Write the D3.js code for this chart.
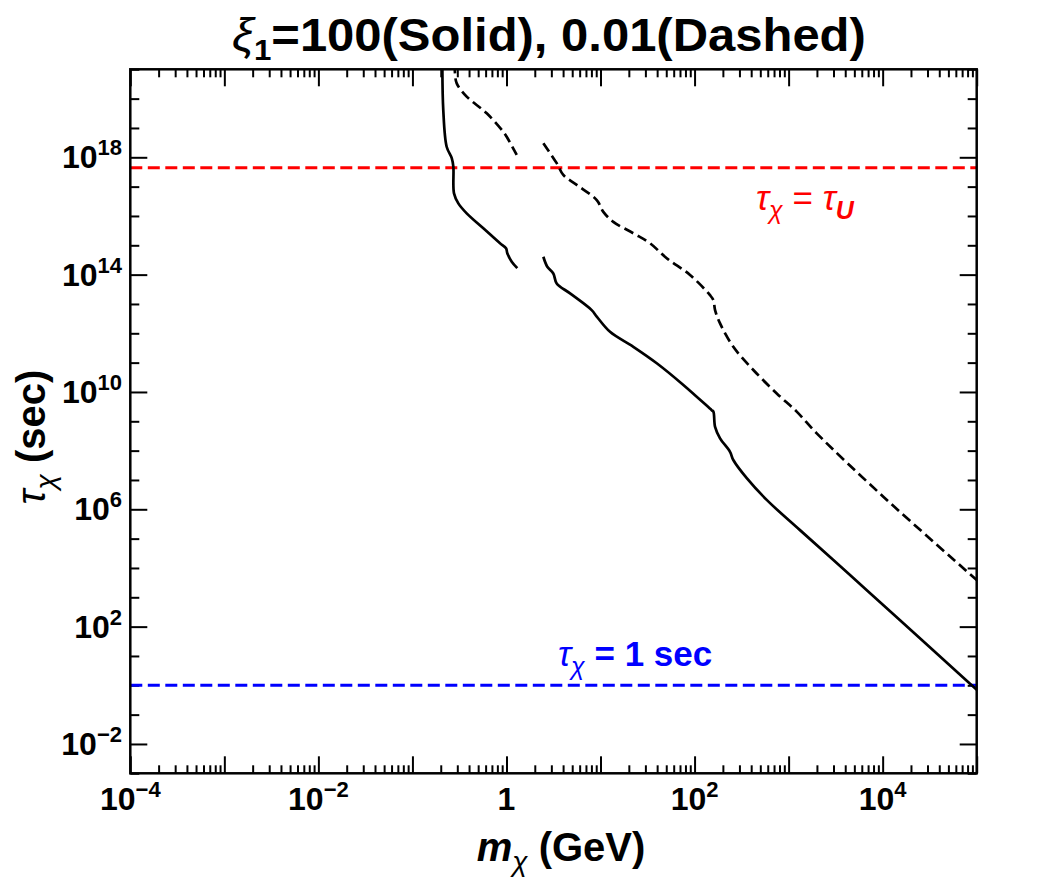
<!DOCTYPE html>
<html><head><meta charset="utf-8">
<script src="https://cdn.jsdelivr.net/npm/d3@7"></script>
<style>body{margin:0;background:#fff}svg{display:block}</style>
</head><body><svg id="c" width="1042" height="882"></svg>
<script>
// Curves as [log10(m_chi / GeV), log10(tau_chi / sec)]
const solidLowMass = [[-0.682,21.2],[-0.672,19.61],[-0.636,18.36],[-0.582,17.97],[-0.565,17.68],[-0.558,16.77],[-0.512,16.43],[-0.423,16.09],[-0.246,15.58],[-0.069,15.07],[-0.005,14.90],[0.009,14.73],[0.056,14.44],[0.115,14.22]];
const solidHighMass = [[0.392,14.61],[0.434,14.27],[0.498,14.04],[0.534,13.70],[0.676,13.36],[0.906,12.79],[0.960,12.57],[1.101,12.05],[1.349,11.54],[1.598,10.98],[1.881,10.24],[2.182,9.38],[2.200,9.33],[2.218,8.81],[2.271,8.42],[2.377,7.96],[2.412,7.68],[2.555,7.06],[2.767,6.32],[3.121,5.29],[3.653,3.76],[4.185,2.22],[4.929,0.05],[5.0,-0.15]];
const dashedLowMass = [[-0.550,21.2],[-0.547,20.86],[-0.529,20.52],[-0.423,20.07],[-0.210,19.50],[-0.034,18.87],[0.002,18.70],[0.109,18.08]];
const dashedHighMass = [[0.392,18.48],[0.534,17.80],[0.604,17.40],[0.747,17.06],[0.960,16.54],[1.030,16.14],[1.136,15.80],[1.349,15.41],[1.526,15.07],[1.704,14.56],[1.952,13.99],[2.164,13.30],[2.200,13.13],[2.218,12.79],[2.271,12.34],[2.412,11.54],[2.625,10.75],[2.874,9.95],[3.086,9.33],[3.299,8.59],[4.007,6.43],[5.0,3.59]];
const xLabelExps = [-4,-2,0,2,4];
const yLabelExps = [-2,2,6,10,14,18];
const tauUniverse = 4.4e17;
const tauOneSec = 1;

const svg = d3.select("#c");
const L=130.3, R=976.7, T=69.3, B=773.3;
const x = d3.scaleLog().domain([1e-4,1e5]).range([L,R]);
const y = d3.scaleLog().domain([1e-3,1e21]).range([B,T]);
const FONT = "'Liberation Sans', Arial, sans-serif";

// ticks
const xMajor = d3.range(-4,6).map(e=>10**e);
const xMinor = [];
for (let e=-4;e<5;e++) for (let k=2;k<10;k++) xMinor.push(k*10**e);
const yAll = d3.range(-3,22).map(e=>10**e);
const yMajor = yLabelExps.map(e=>10**e);
const yMinor = yAll.filter(v=>!yLabelExps.includes(Math.round(Math.log10(v))));

function drawAxis(gen, scale, vals, size, tr){
  const g = svg.append("g").attr("transform",tr)
    .call(gen(scale).tickValues(vals).tickSize(-size).tickFormat(""));
  g.select(".domain").remove();
  g.selectAll(".tick line").attr("stroke","#000").attr("stroke-width",2);
}
drawAxis(d3.axisBottom,x,xMinor,8,`translate(0,${B})`);
drawAxis(d3.axisBottom,x,xMajor,17,`translate(0,${B})`);
drawAxis(d3.axisTop,x,xMinor,8,`translate(0,${T})`);
drawAxis(d3.axisTop,x,xMajor,17,`translate(0,${T})`);
drawAxis(d3.axisLeft,y,yMinor,9,`translate(${L},0)`);
drawAxis(d3.axisLeft,y,yMajor,17,`translate(${L},0)`);
drawAxis(d3.axisRight,y,yMinor,9,`translate(${R},0)`);
drawAxis(d3.axisRight,y,yMajor,17,`translate(${R},0)`);

// clip
svg.append("clipPath").attr("id","clip").append("rect")
  .attr("x",L).attr("y",T).attr("width",R-L).attr("height",B-T);
const plot = svg.append("g").attr("clip-path","url(#clip)");

// reference lines
plot.append("line").attr("x1",L).attr("x2",R)
  .attr("y1",y(tauUniverse)).attr("y2",y(tauUniverse))
  .attr("stroke","#ff0000").attr("stroke-width",3).attr("stroke-dasharray","12,5.5");
plot.append("line").attr("x1",L).attr("x2",R)
  .attr("y1",y(tauOneSec)).attr("y2",y(tauOneSec))
  .attr("stroke","#0000ff").attr("stroke-width",3).attr("stroke-dasharray","12,5.5");

const line = d3.line().x(d=>x(10**d[0])).y(d=>y(10**d[1])).curve(d3.curveCatmullRom);
[solidLowMass, solidHighMass].forEach(s=>plot.append("path").attr("d",line(s))
  .attr("fill","none").attr("stroke","#000").attr("stroke-width",2.7));
[dashedLowMass, dashedHighMass].forEach(s=>plot.append("path").attr("d",line(s))
  .attr("fill","none").attr("stroke","#000").attr("stroke-width",2.7).attr("stroke-dasharray","10,5"));

// frame
svg.append("rect").attr("x",L).attr("y",T).attr("width",R-L).attr("height",B-T)
  .attr("fill","none").attr("stroke","#000").attr("stroke-width",2.5);

// tick labels
function powLabel(g, e){
  if (e===0){ g.append("tspan").text("1"); return; }
  g.append("tspan").text("10");
  g.append("tspan").attr("font-size",22).attr("dy",-13).text(e<0?"\u2212"+(-e):String(e));
}
xLabelExps.forEach(e=>{
  const t = svg.append("text").attr("x",x(10**e)).attr("y",810)
    .attr("text-anchor","middle").attr("font-family",FONT).attr("font-weight","bold").attr("font-size",32);
  powLabel(t,e);
});
yLabelExps.forEach(e=>{
  const t = svg.append("text").attr("x",122).attr("y",y(10**e)+11)
    .attr("text-anchor","end").attr("font-family",FONT).attr("font-weight","bold").attr("font-size",32);
  powLabel(t,e);
});

// axis titles
const xt = svg.append("text").attr("x",561).attr("y",861).attr("text-anchor","middle")
  .attr("font-family",FONT).attr("font-weight","bold").attr("font-size",40);
xt.append("tspan").attr("font-style","italic").text("m");
xt.append("tspan").attr("font-style","italic").attr("font-weight","normal").attr("font-size",28).attr("dy",10).text("\u03c7");
xt.append("tspan").attr("dy",-10).text(" (GeV)");

const yt = svg.append("text").attr("transform","translate(45,437) rotate(-90)").attr("text-anchor","middle")
  .attr("font-family",FONT).attr("font-weight","bold").attr("font-size",40);
yt.append("tspan").attr("font-style","italic").attr("font-weight","normal").text("\u03c4");
yt.append("tspan").attr("font-style","italic").attr("font-weight","normal").attr("font-size",28).attr("dy",10).text("\u03c7");
yt.append("tspan").attr("dy",-10).text(" (sec)");

// title
const title = svg.append("text").attr("x",0).attr("y",0)
  .attr("font-family",FONT).attr("font-weight","bold").attr("font-size",47);
title.append("tspan").attr("font-style","italic").attr("font-weight","normal").text("\u03be");
title.append("tspan").attr("font-size",30).attr("dy",9).text("1");
title.append("tspan").attr("dy",-9).text("=100(Solid), 0.01(Dashed)");
const tb = title.node().getBBox();
const sx = 634/tb.width;
title.attr("transform",`translate(${549 - sx*(tb.x+tb.width/2)},51) scale(${sx},1)`);

// line annotations
const rl = svg.append("text").attr("x",756).attr("y",210)
  .attr("font-family",FONT).attr("font-size",35).attr("fill","#ff0000");
rl.append("tspan").attr("font-style","italic").text("\u03c4");
rl.append("tspan").attr("font-style","italic").attr("font-size",25).attr("dy",9).text("\u03c7");
rl.append("tspan").attr("dy",-9).text(" = ");
rl.append("tspan").attr("font-style","italic").text("\u03c4");
rl.append("tspan").attr("font-style","italic").attr("font-weight","bold").attr("font-size",25).attr("dy",9).text("U");

const bl = svg.append("text").attr("x",558).attr("y",666)
  .attr("font-family",FONT).attr("font-size",35).attr("fill","#0000ff");
bl.append("tspan").attr("font-style","italic").text("\u03c4");
bl.append("tspan").attr("font-style","italic").attr("font-size",25).attr("dy",9).text("\u03c7");
bl.append("tspan").attr("dy",-9).attr("font-weight","bold").text(" = 1 sec");
</script></body></html>
